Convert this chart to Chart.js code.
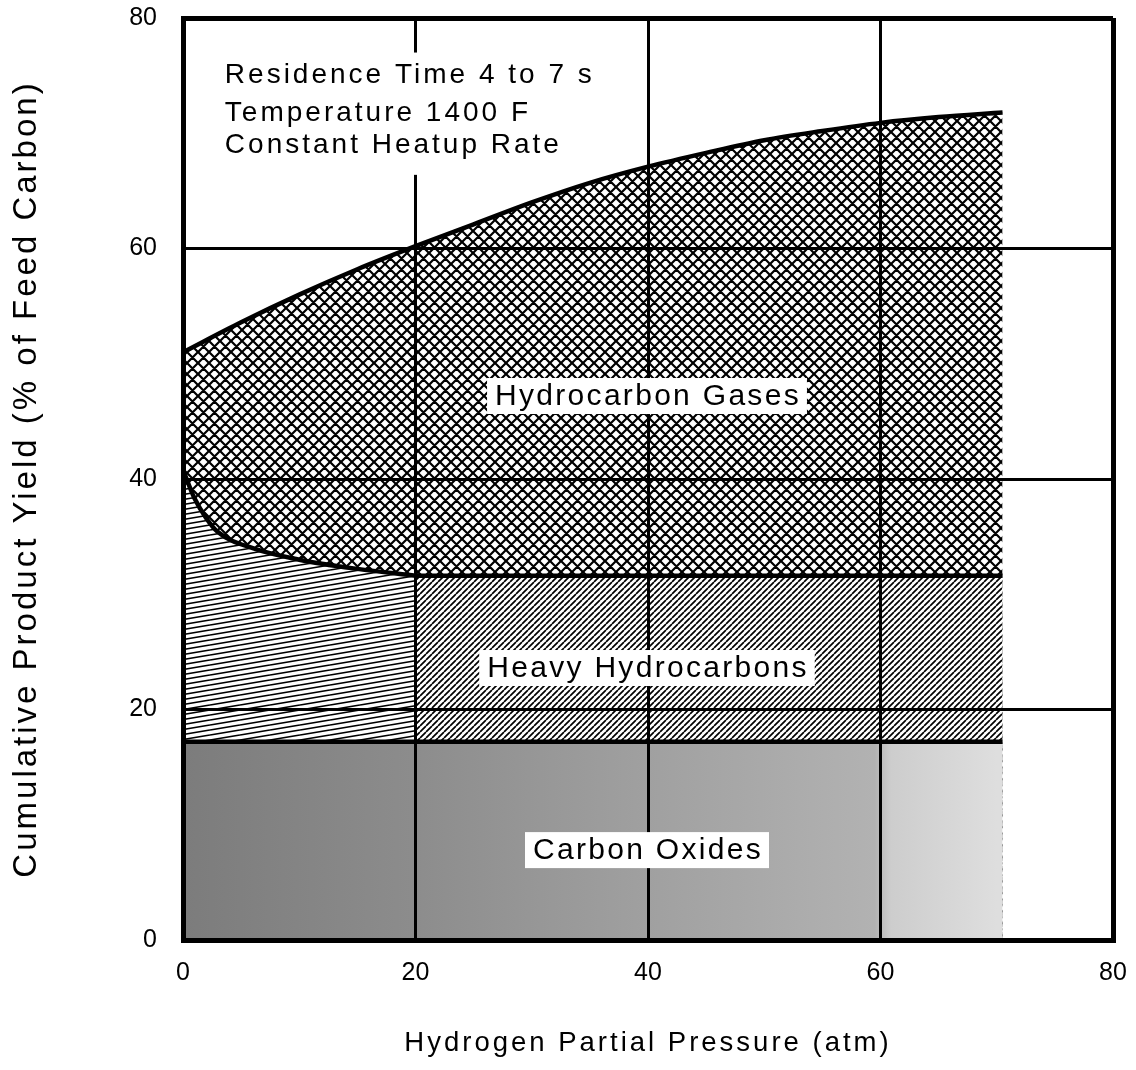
<!DOCTYPE html>
<html>
<head>
<meta charset="utf-8">
<title>Cumulative Product Yield vs Hydrogen Partial Pressure</title>
<script src="https://cdn.jsdelivr.net/npm/chart.js@4"></script>
<style>
  html, body { margin: 0; padding: 0; background: #fff; }
  #wrap { width: 1136px; height: 1070px; position: relative; }
</style>
</head>
<body>
<div id="wrap"><canvas id="graph"></canvas></div>
<script>
// values (x = H2 partial pressure, atm)
const gasX = [0, 5, 10, 15, 20, 25, 30, 35, 40, 45, 50, 55, 60, 65, 70.5];
const gasTop = [51.0, 53.6, 56.0, 58.2, 60.2, 62.1, 64.0, 65.7, 67.1, 68.3, 69.4, 70.2, 70.9, 71.4, 71.8];

const heavyX = [0, 1, 2, 3, 6, 10, 15, 20];
const heavyTop = [40.8, 38.3, 36.6, 35.4, 34.0, 33.0, 32.2, 31.6];
const heavyFlatX = [20, 70.5];
const heavyFlatTop = [31.6, 31.6];

const oxideX = [0, 70.5];
const oxideTop = [17.2, 17.2];

const tickValues = [0, 20, 40, 60, 80];
const notes = ['Residence Time 4 to 7 s', 'Temperature 1400 F', 'Constant Heatup Rate'];
const regionLabels = ['Hydrocarbon Gases', 'Heavy Hydrocarbons', 'Carbon Oxides'];

const FONT = '"Liberation Sans", Arial, Helvetica, sans-serif';
const ctx = document.getElementById('graph');

function toXY(xs, ys) {
  return xs.map((x, i) => ({ x: x, y: ys[i] }));
}

function makePattern(w, h, drawFn) {
  const c = document.createElement('canvas');
  c.width = w;
  c.height = h;
  const g = c.getContext('2d');
  g.fillStyle = '#fff';
  g.fillRect(0, 0, w, h);
  g.strokeStyle = '#000';
  g.beginPath();
  drawFn(g, w, h);
  g.stroke();
  return g.createPattern(c, 'repeat');
}

// crosshatch for hydrocarbon gases
const crossHatch = makePattern(11, 11, (g, w, h) => {
  g.lineWidth = 2.2;
  for (let k = -1; k <= 1; k++) {
    g.moveTo(k * w, 0); g.lineTo(k * w + w, h);
    g.moveTo(k * w, h); g.lineTo(k * w + w, 0);
  }
});

// steep diagonal hatch (right part of heavy hydrocarbons)
const diagHatch = makePattern(6, 6, (g, w, h) => {
  g.lineWidth = 1.7;
  for (let k = -1; k <= 1; k++) {
    g.moveTo(k * w, h); g.lineTo(k * w + w, 0);
  }
});

// shallow, almost flat hatch (left part of heavy hydrocarbons)
const flatHatch = makePattern(30, 5, (g, w, h) => {
  g.lineWidth = 1.6;
  for (let dy = -h; dy <= h; dy += h) {
    g.moveTo(0, h + dy); g.lineTo(w, dy);
  }
});

function oxideFill(context) {
  const chart = context.chart;
  if (!chart.chartArea) return '#999';
  const xs = chart.scales.x;
  const g = chart.ctx.createLinearGradient(xs.getPixelForValue(0), 0, xs.getPixelForValue(70), 0);
  g.addColorStop(0, '#7c7c7c');
  g.addColorStop(0.28, '#8c8c8c');
  g.addColorStop(0.57, '#a0a0a0');
  g.addColorStop(0.85, '#b2b2b2');
  g.addColorStop(0.87, '#cdcdcd');
  g.addColorStop(1, '#dedede');
  return g;
}

// tick labels are drawn before the datasets, titles/grid after them,
// so the spacing can differ between the two
const annotate = {
  id: 'annotate',
  beforeUpdate(chart) { chart.ctx.letterSpacing = '0px'; },
  beforeDraw(chart) { chart.ctx.letterSpacing = '0px'; },
  afterDatasetsDraw(chart) { chart.ctx.letterSpacing = '3px'; },
  afterDraw(chart) {
    const c = chart.ctx;
    const x = chart.scales.x;
    const y = chart.scales.y;
    c.save();

    // conditions box, top left
    c.font = '28px ' + FONT;
    c.letterSpacing = '3px';
    c.textAlign = 'left';
    c.textBaseline = 'alphabetic';
    const left = x.getPixelForValue(3.6);
    const base = [74.4, 71.1, 68.3].map(v => y.getPixelForValue(v));
    const w = Math.max(...notes.map(t => c.measureText(t).width));
    c.fillStyle = '#fff';
    c.fillRect(left - 10, base[0] - 30, w + 14, base[2] - base[0] + 52);
    c.fillStyle = '#000';
    notes.forEach((t, i) => c.fillText(t, left, base[i]));

    // region labels on white boxes
    const labelY = [47.2, 23.6, 7.8];
    c.font = '30px ' + FONT;
    c.letterSpacing = '2.3px';
    c.textAlign = 'center';
    c.textBaseline = 'middle';
    regionLabels.forEach((t, i) => {
      const cx = x.getPixelForValue(40);
      const cy = y.getPixelForValue(labelY[i]);
      const tw = c.measureText(t).width;
      c.fillStyle = '#fff';
      c.fillRect(cx - tw / 2 - 8, cy - 18, tw + 14, 36);
      c.fillStyle = '#000';
      c.fillText(t, cx, cy + 1);
    });
    c.restore();
    c.letterSpacing = '0px';
  }
};

function gridWidth(context) {
  const v = context.tick && context.tick.value;
  return (v === 0 || v === 80) ? 5 : 3;
}

function setTicks(scale) {
  scale.ticks = tickValues.map(v => ({ value: v }));
}

function noPadding(scale) {
  scale.paddingTop = 0;
  scale.paddingBottom = 0;
  scale.paddingLeft = 0;
  scale.paddingRight = 0;
}

const lineStyle = {
  borderColor: '#000',
  borderWidth: 4.5,
  pointRadius: 0,
  fill: 'origin'
};

const chart = new Chart(ctx, {
  type: 'line',
  data: {
    datasets: [{
      ...lineStyle,
      label: 'Carbon Oxides',
      data: toXY(oxideX, oxideTop),
      backgroundColor: oxideFill
    }, {
      ...lineStyle,
      label: 'Heavy Hydrocarbons (20-70 atm)',
      data: toXY(heavyFlatX, heavyFlatTop),
      backgroundColor: diagHatch
    }, {
      ...lineStyle,
      label: 'Heavy Hydrocarbons (0-20 atm)',
      data: toXY(heavyX, heavyTop),
      cubicInterpolationMode: 'monotone',
      backgroundColor: flatHatch
    }, {
      ...lineStyle,
      label: 'Hydrocarbon Gases',
      data: toXY(gasX, gasTop),
      cubicInterpolationMode: 'monotone',
      backgroundColor: crossHatch
    }]
  },
  options: {
    responsive: true,
    maintainAspectRatio: false,
    animation: false,
    layout: { padding: { top: 18, right: 23, left: 0, bottom: 0 } },
    plugins: {
      legend: { display: false },
      tooltip: { enabled: false }
    },
    scales: {
      x: {
        type: 'linear',
        min: 0,
        max: 80,
        afterBuildTicks: setTicks,
        afterFit: s => { s.height = 130; noPadding(s); },
        grid: { color: '#000', lineWidth: gridWidth, drawTicks: false, z: 1 },
        border: { display: true, color: '#000', width: 5, z: 2 },
        ticks: { color: '#000', font: { family: FONT, size: 25 }, padding: 18, maxRotation: 0, z: 0 },
        title: {
          display: true,
          text: 'Hydrogen Partial Pressure (atm)',
          color: '#000',
          font: { family: FONT, size: 27.5 },
          padding: { top: 0, bottom: 10 }
        }
      },
      y: {
        type: 'linear',
        min: 0,
        max: 80,
        afterBuildTicks: setTicks,
        afterFit: s => { s.width = 183; noPadding(s); },
        grid: { color: '#000', lineWidth: gridWidth, drawTicks: false, z: 1 },
        border: { display: true, color: '#000', width: 5, z: 2 },
        ticks: { color: '#000', font: { family: FONT, size: 25 }, padding: 26, z: 0 },
        title: {
          display: true,
          text: 'Cumulative Product Yield (% of Feed Carbon)',
          color: '#000',
          font: { family: FONT, size: 33 },
          padding: { top: 7, bottom: 0 }
        }
      }
    }
  },
  plugins: [annotate]
});
</script>
</body>
</html>
